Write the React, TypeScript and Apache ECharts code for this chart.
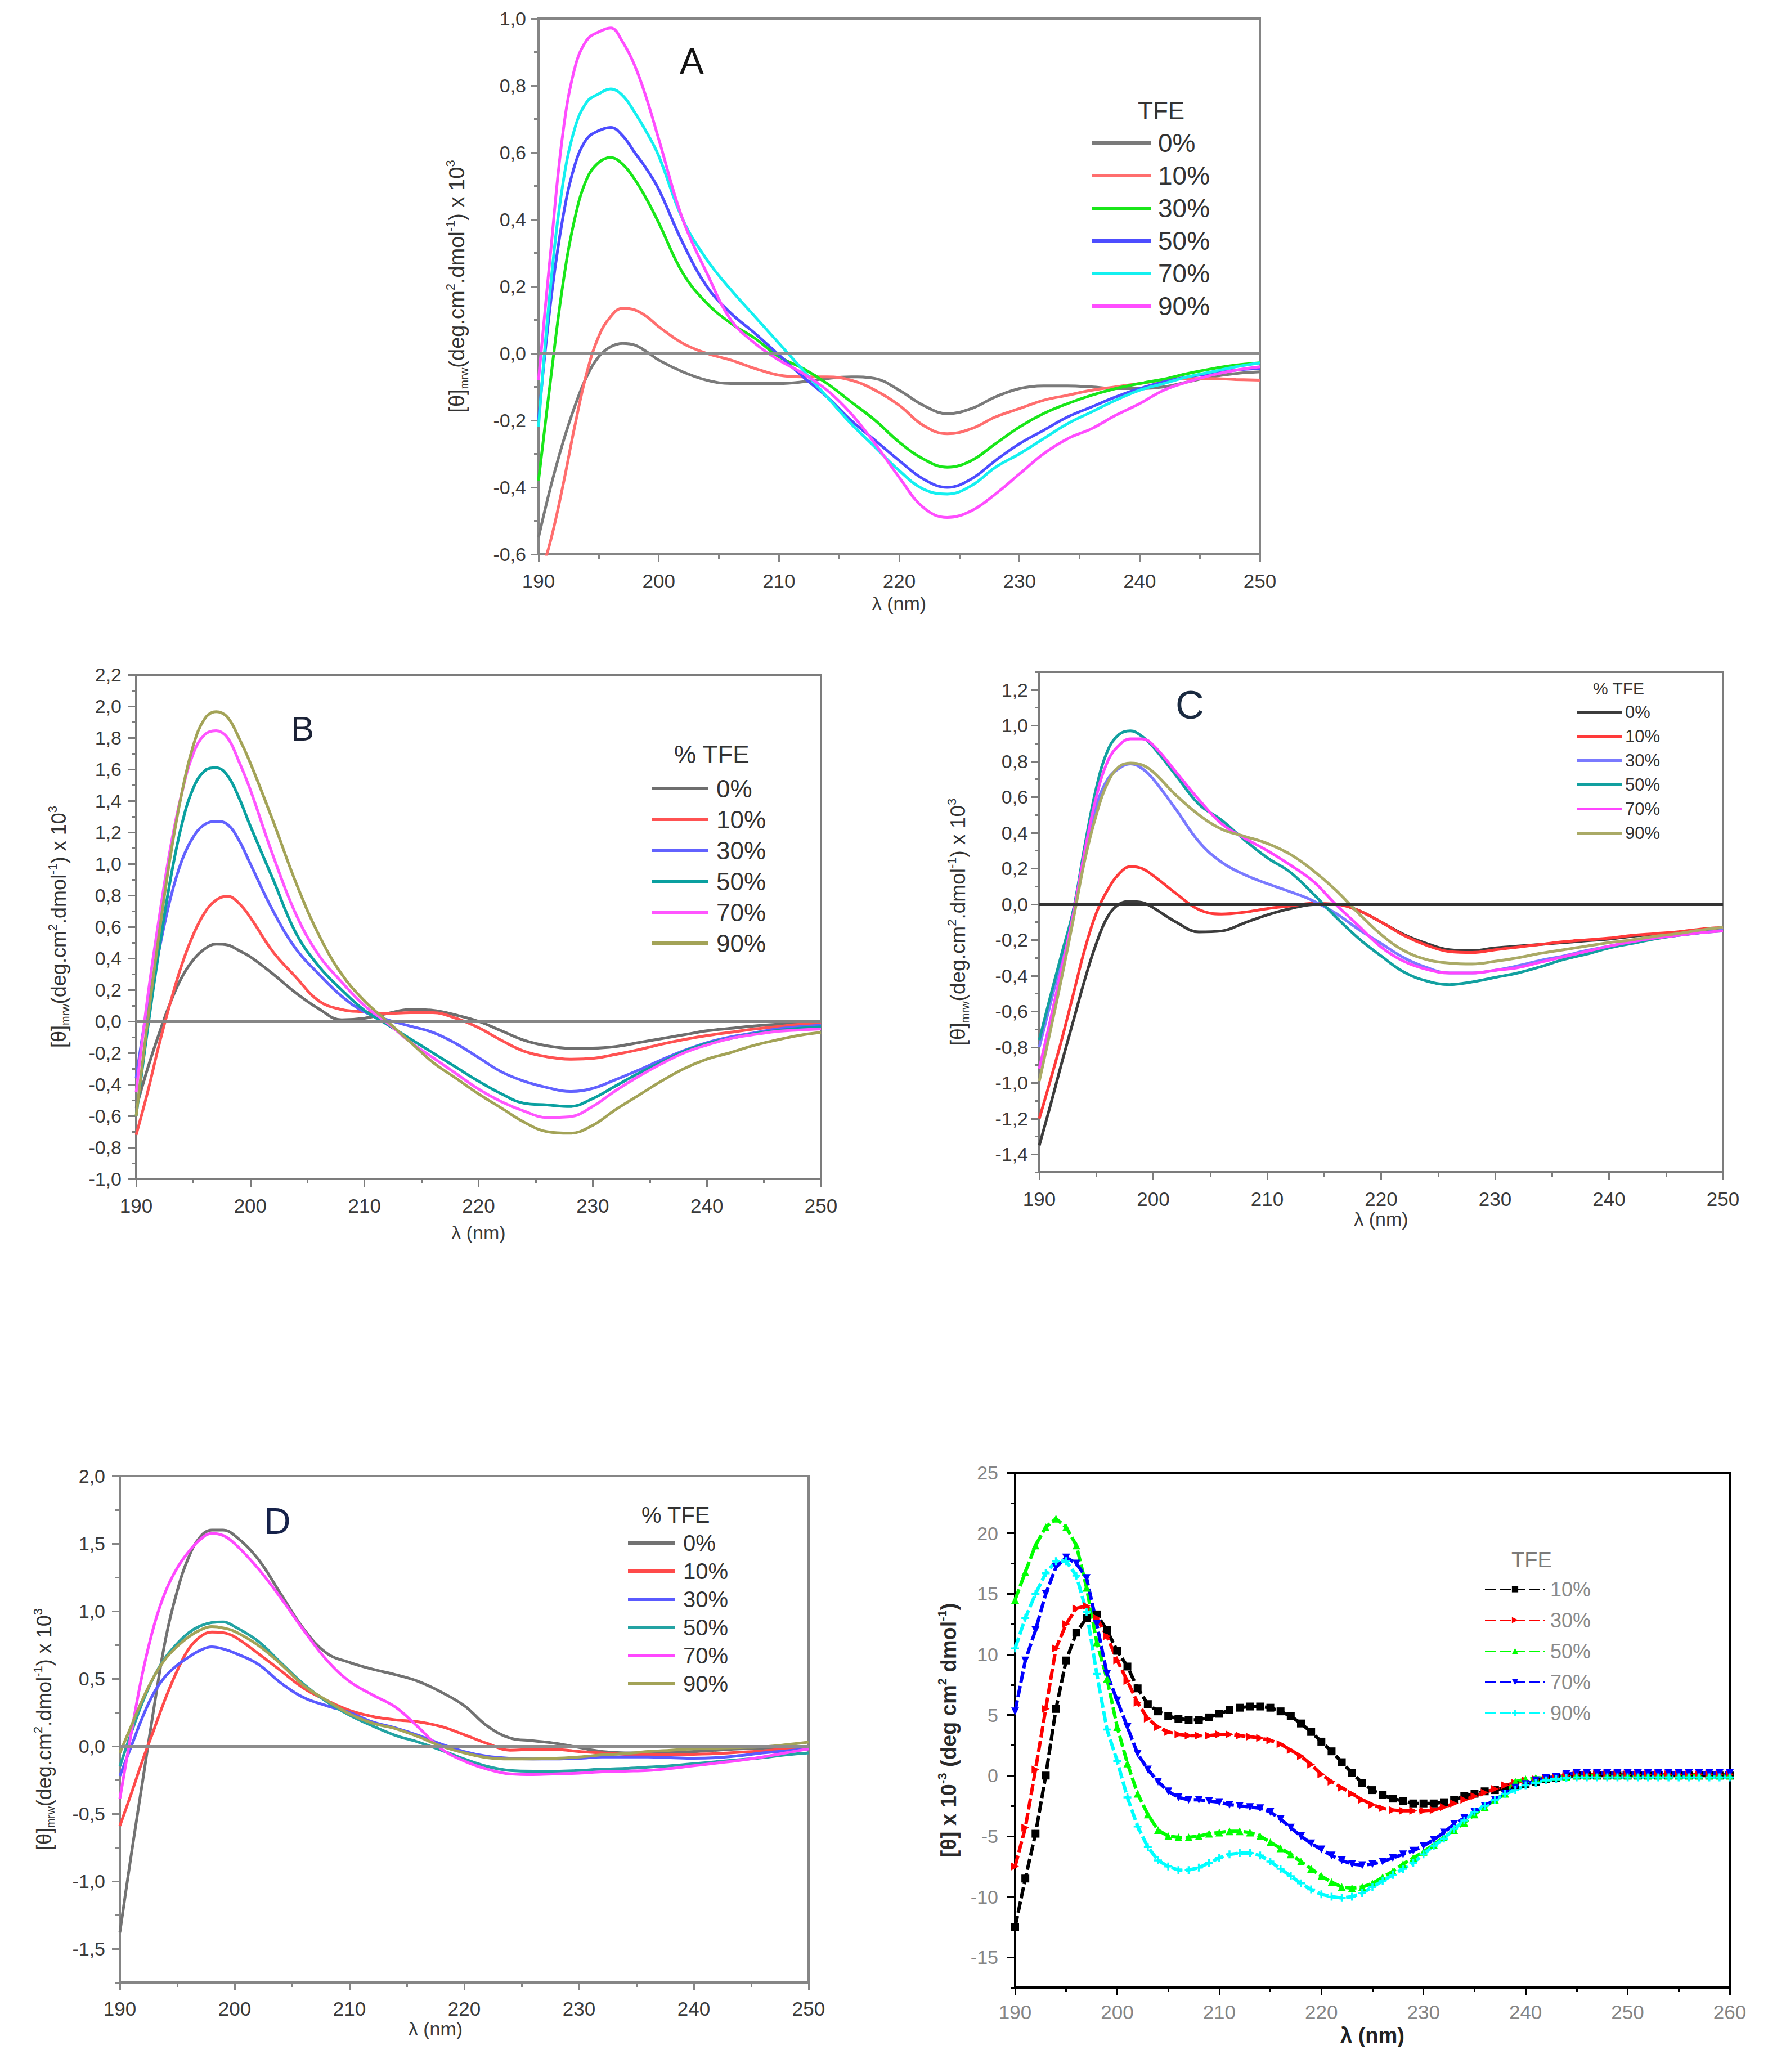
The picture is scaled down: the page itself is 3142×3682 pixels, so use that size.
import { useEffect, useRef } from 'react'
import * as echarts from 'echarts'

const FONT = "'Liberation Sans', Arial, Helvetica, sans-serif"

// wavelength grid (nm)
const X_AD = [190, 191, 192, 193, 194, 195, 196, 197, 198, 199, 200, 202, 204, 206, 208, 210, 212, 214, 216, 218, 220, 222, 224, 226, 228, 230, 232, 234, 236, 238, 240, 242, 244, 246, 248, 250]
const X_E = [190, 191, 192, 193, 194, 195, 196, 197, 198, 199, 200, 201, 202, 203, 204, 205, 206, 207, 208, 209, 210, 211, 212, 213, 214, 215, 216, 217, 218, 219, 220, 221, 222, 223, 224, 225, 226, 227, 228, 229, 230, 231, 232, 233, 234, 235, 236, 237, 238, 239, 240, 241, 242, 243, 244, 245, 246, 247, 248, 249, 250, 251, 252, 253, 254, 255, 256, 257, 258, 259, 260]

// tick labels
const Y_TICKS_A = [-0.6, -0.4, -0.2, 0, 0.2, 0.4, 0.6, 0.8, 1.0]
const Y_TICKS_B = [-1.0, -0.8, -0.6, -0.4, -0.2, 0, 0.2, 0.4, 0.6, 0.8, 1.0, 1.2, 1.4, 1.6, 1.8, 2.0, 2.2]
const Y_TICKS_C = [-1.4, -1.2, -1.0, -0.8, -0.6, -0.4, -0.2, 0, 0.2, 0.4, 0.6, 0.8, 1.0, 1.2]
const Y_TICKS_D = [-1.5, -1.0, -0.5, 0, 0.5, 1.0, 1.5, 2.0]
const Y_TICKS_E = [-15, -10, -5, 0, 5, 10, 15, 20, 25]

const TFE_AD = ['0%', '10%', '30%', '50%', '70%', '90%']
const TFE_E = ['10%', '30%', '50%', '70%', '90%']

// panel A
const A_0 = [-0.55, -0.40, -0.27, -0.16, -0.07, -0.01, 0.02, 0.03, 0.025, 0.005, -0.02, -0.055, -0.08, -0.09, -0.09, -0.09, -0.085, -0.075, -0.07, -0.075, -0.11, -0.155, -0.18, -0.165, -0.13, -0.105, -0.097, -0.097, -0.1, -0.105, -0.105, -0.1, -0.085, -0.07, -0.06, -0.055]
const A_10 = [-0.68, -0.56, -0.40, -0.22, -0.06, 0.05, 0.11, 0.135, 0.13, 0.11, 0.08, 0.03, 0.0, -0.02, -0.045, -0.065, -0.07, -0.07, -0.08, -0.11, -0.155, -0.215, -0.24, -0.225, -0.19, -0.165, -0.14, -0.125, -0.11, -0.1, -0.09, -0.08, -0.075, -0.075, -0.078, -0.08]
const A_30 = [-0.38, -0.08, 0.2, 0.4, 0.52, 0.57, 0.585, 0.565, 0.52, 0.46, 0.39, 0.24, 0.15, 0.09, 0.045, -0.01, -0.045, -0.09, -0.145, -0.2, -0.265, -0.315, -0.34, -0.32, -0.27, -0.22, -0.18, -0.15, -0.125, -0.105, -0.09, -0.077, -0.06, -0.046, -0.035, -0.028]
const A_50 = [-0.2, 0.15, 0.4, 0.56, 0.64, 0.665, 0.675, 0.65, 0.6, 0.55, 0.49, 0.33, 0.2, 0.12, 0.06, -0.005, -0.07, -0.13, -0.2, -0.26, -0.32, -0.375, -0.4, -0.375, -0.32, -0.27, -0.23, -0.19, -0.16, -0.13, -0.105, -0.085, -0.07, -0.06, -0.05, -0.045]
const A_70 = [-0.22, 0.2, 0.5, 0.67, 0.75, 0.775, 0.79, 0.77, 0.72, 0.66, 0.59, 0.4, 0.28, 0.19, 0.11, 0.03, -0.05, -0.13, -0.21, -0.28, -0.35, -0.405, -0.42, -0.395, -0.34, -0.3, -0.255, -0.21, -0.175, -0.14, -0.11, -0.09, -0.07, -0.055, -0.04, -0.028]
const A_90 = [-0.08, 0.3, 0.65, 0.85, 0.935, 0.96, 0.972, 0.93, 0.86, 0.76, 0.64, 0.4, 0.24, 0.1, 0.03, -0.02, -0.06, -0.11, -0.18, -0.27, -0.37, -0.46, -0.49, -0.47, -0.42, -0.36, -0.3, -0.255, -0.225, -0.185, -0.15, -0.11, -0.085, -0.065, -0.05, -0.04]

// panel B
const B_0 = [-0.55, -0.3, -0.08, 0.12, 0.28, 0.39, 0.46, 0.49, 0.485, 0.45, 0.41, 0.3, 0.18, 0.08, 0.01, 0.02, 0.05, 0.075, 0.07, 0.04, 0.0, -0.06, -0.12, -0.155, -0.17, -0.17, -0.16, -0.135, -0.11, -0.085, -0.06, -0.045, -0.03, -0.02, -0.015, -0.012]
const B_10 = [-0.72, -0.45, -0.15, 0.12, 0.36, 0.55, 0.69, 0.77, 0.795, 0.75, 0.66, 0.44, 0.28, 0.13, 0.075, 0.06, 0.05, 0.055, 0.055, 0.02, -0.04, -0.12, -0.19, -0.225, -0.24, -0.235, -0.21, -0.18, -0.145, -0.115, -0.09, -0.07, -0.05, -0.035, -0.02, -0.012]
const B_30 = [-0.36, 0.1, 0.45, 0.78, 1.02, 1.17, 1.25, 1.27, 1.25, 1.15, 1.0, 0.7, 0.46, 0.3, 0.16, 0.06, 0.01, -0.03, -0.07, -0.14, -0.23, -0.32, -0.38, -0.42, -0.445, -0.425, -0.37, -0.31, -0.245, -0.185, -0.135, -0.1, -0.075, -0.05, -0.035, -0.025]
const B_50 = [-0.6, -0.05, 0.45, 0.9, 1.25, 1.48, 1.59, 1.61, 1.56, 1.42, 1.24, 0.9, 0.56, 0.35, 0.2, 0.07, -0.02, -0.11, -0.2, -0.29, -0.38, -0.46, -0.52, -0.53, -0.54, -0.49, -0.41, -0.33, -0.26, -0.19, -0.14, -0.11, -0.08, -0.06, -0.045, -0.035]
const B_70 = [-0.45, 0.15, 0.65, 1.1, 1.45, 1.7, 1.82, 1.845, 1.8, 1.65, 1.47, 1.05, 0.68, 0.42, 0.25, 0.1, -0.01, -0.13, -0.23, -0.33, -0.43, -0.51, -0.57, -0.61, -0.605, -0.54, -0.44, -0.35, -0.27, -0.2, -0.15, -0.11, -0.085, -0.065, -0.055, -0.048]
const B_90 = [-0.6, 0.0, 0.55, 1.05, 1.45, 1.75, 1.92, 1.965, 1.93, 1.8, 1.64, 1.27, 0.88, 0.55, 0.3, 0.13, 0.0, -0.13, -0.26, -0.36, -0.46, -0.55, -0.64, -0.7, -0.71, -0.66, -0.56, -0.47, -0.38, -0.3, -0.24, -0.2, -0.155, -0.12, -0.09, -0.07]

// panel C
const C_0 = [-1.35, -1.12, -0.88, -0.65, -0.42, -0.22, -0.07, 0.0, 0.015, 0.01, -0.02, -0.1, -0.155, -0.15, -0.105, -0.06, -0.025, -0.002, 0.0, -0.035, -0.1, -0.17, -0.22, -0.255, -0.26, -0.245, -0.235, -0.225, -0.215, -0.205, -0.195, -0.18, -0.17, -0.16, -0.15, -0.143]
const C_10 = [-1.2, -0.98, -0.75, -0.5, -0.25, -0.05, 0.08, 0.17, 0.21, 0.2, 0.16, 0.06, -0.03, -0.055, -0.045, -0.025, -0.01, 0.005, 0.0, -0.035, -0.1, -0.175, -0.23, -0.265, -0.27, -0.255, -0.24, -0.225, -0.21, -0.2, -0.19, -0.175, -0.165, -0.155, -0.14, -0.13]
const C_30 = [-0.8, -0.55, -0.3, -0.03, 0.3, 0.55, 0.7, 0.76, 0.785, 0.76, 0.7, 0.53, 0.35, 0.235, 0.165, 0.115, 0.07, 0.02, -0.05, -0.14, -0.22, -0.3, -0.355, -0.385, -0.385, -0.37, -0.345, -0.315, -0.29, -0.26, -0.235, -0.21, -0.19, -0.175, -0.16, -0.145]
const C_50 = [-0.76, -0.51, -0.27, -0.03, 0.33, 0.65, 0.86, 0.95, 0.97, 0.94, 0.88, 0.72, 0.56, 0.47, 0.36, 0.26, 0.18, 0.06, -0.07, -0.19, -0.29, -0.38, -0.43, -0.45, -0.435, -0.41, -0.385, -0.35, -0.31, -0.28, -0.245, -0.22, -0.195, -0.175, -0.16, -0.15]
const C_70 = [-0.92, -0.64, -0.35, -0.05, 0.3, 0.6, 0.8, 0.89, 0.925, 0.925, 0.89, 0.74, 0.585, 0.45, 0.37, 0.3, 0.22, 0.13, 0.0, -0.12, -0.24, -0.32, -0.365, -0.385, -0.385, -0.37, -0.355, -0.325, -0.295, -0.265, -0.235, -0.21, -0.19, -0.175, -0.16, -0.15]
const C_90 = [-0.99, -0.7, -0.4, -0.08, 0.25, 0.5, 0.68, 0.77, 0.79, 0.78, 0.74, 0.61, 0.5, 0.42, 0.38, 0.34, 0.28, 0.19, 0.08, -0.05, -0.17, -0.26, -0.31, -0.33, -0.335, -0.32, -0.3, -0.275, -0.255, -0.235, -0.215, -0.2, -0.18, -0.165, -0.145, -0.13]

// panel D
const D_0 = [-1.38, -0.8, -0.25, 0.3, 0.8, 1.15, 1.4, 1.55, 1.6, 1.6, 1.56, 1.39, 1.13, 0.87, 0.69, 0.62, 0.57, 0.53, 0.48, 0.4, 0.3, 0.15, 0.06, 0.04, 0.02, -0.01, -0.04, -0.05, -0.05, -0.045, -0.04, -0.03, -0.02, -0.015, -0.01, -0.005]
const D_10 = [-0.59, -0.35, -0.1, 0.13, 0.36, 0.56, 0.72, 0.81, 0.845, 0.84, 0.81, 0.69, 0.56, 0.43, 0.34, 0.265, 0.22, 0.195, 0.18, 0.145, 0.085, 0.02, -0.03, -0.025, -0.025, -0.04, -0.05, -0.06, -0.065, -0.065, -0.06, -0.055, -0.045, -0.035, -0.02, -0.006]
const D_30 = [-0.22, 0.0, 0.22, 0.4, 0.52, 0.6, 0.66, 0.71, 0.735, 0.72, 0.69, 0.61, 0.47, 0.36, 0.3, 0.25, 0.18, 0.135, 0.08, 0.015, -0.04, -0.075, -0.09, -0.095, -0.095, -0.09, -0.08, -0.08, -0.08, -0.085, -0.09, -0.085, -0.07, -0.05, -0.035, -0.02]
const D_50 = [-0.15, 0.1, 0.33, 0.52, 0.66, 0.76, 0.84, 0.89, 0.915, 0.92, 0.885, 0.78, 0.62, 0.46, 0.33, 0.23, 0.15, 0.08, 0.03, -0.03, -0.095, -0.15, -0.18, -0.185, -0.185, -0.18, -0.17, -0.165, -0.155, -0.145, -0.13, -0.115, -0.1, -0.085, -0.065, -0.05]
const D_70 = [-0.39, 0.1, 0.55, 0.9, 1.15, 1.32, 1.44, 1.53, 1.575, 1.56, 1.5, 1.32, 1.1, 0.86, 0.64, 0.48, 0.38, 0.29, 0.14, -0.02, -0.11, -0.17, -0.205, -0.21, -0.205, -0.2, -0.19, -0.185, -0.18, -0.165, -0.145, -0.125, -0.105, -0.08, -0.05, -0.02]
const D_90 = [-0.05, 0.15, 0.35, 0.52, 0.65, 0.74, 0.81, 0.86, 0.885, 0.875, 0.85, 0.75, 0.61, 0.45, 0.34, 0.24, 0.17, 0.13, 0.07, 0.0, -0.05, -0.085, -0.095, -0.095, -0.09, -0.08, -0.065, -0.055, -0.04, -0.03, -0.02, -0.015, -0.01, -0.005, 0.01, 0.03]

// panel E (x 10^-3)
const E_10 = [-12.5, -8.5, -4.8, 0.0, 5.5, 9.5, 11.8, 13.0, 13.3, 12.0, 10.3, 9.0, 7.2, 5.9, 5.3, 4.9, 4.7, 4.6, 4.6, 4.8, 5.1, 5.4, 5.6, 5.7, 5.7, 5.6, 5.3, 4.9, 4.3, 3.6, 2.8, 2.0, 1.1, 0.2, -0.6, -1.2, -1.6, -1.9, -2.1, -2.3, -2.3, -2.3, -2.2, -2.0, -1.7, -1.5, -1.3, -1.2, -1.0, -0.8, -0.7, -0.5, -0.3, -0.2, -0.1, 0, 0, 0, 0, 0, 0, 0, 0, 0, 0, 0, 0, 0, 0, 0, 0]
const E_30 = [-7.5, -4.3, 0.5, 5.5, 10.5, 12.5, 13.8, 14.0, 13.0, 11.5, 9.5, 7.8, 6.0, 4.7, 4.0, 3.6, 3.4, 3.3, 3.3, 3.3, 3.4, 3.4, 3.3, 3.2, 3.1, 2.9, 2.6, 2.1, 1.6, 0.9, 0.1, -0.5, -1.0, -1.5, -2.0, -2.4, -2.7, -2.85, -2.9, -2.9, -2.9, -2.85, -2.6, -2.3, -2.0, -1.7, -1.4, -1.1, -0.8, -0.6, -0.4, -0.3, -0.2, -0.1, 0, 0.1, 0.1, 0.1, 0.1, 0.1, 0.1, 0.1, 0.1, 0.1, 0.1, 0.1, 0.1, 0.1, 0.1, 0.1, 0.1]
const E_50 = [14.5, 16.8, 19.0, 20.5, 21.2, 20.5, 19.0, 15.5, 11.0, 8.0, 4.0, 1.0, -1.5, -3.2, -4.5, -5.0, -5.1, -5.1, -5.0, -4.8, -4.7, -4.6, -4.6, -4.7, -5.0, -5.5, -6.0, -6.5, -7.1, -7.7, -8.3, -8.8, -9.2, -9.3, -9.2, -8.9, -8.4, -7.9, -7.3, -6.8, -6.3, -5.7, -5.1, -4.5, -3.9, -3.2, -2.6, -2.0, -1.5, -0.5, -0.3, -0.2, -0.2, -0.1, -0.1, 0, 0, 0, 0, 0, 0, 0, 0, 0, 0, 0, 0, 0, 0, 0, 0]
const E_70 = [5.3, 9.5, 12.0, 15.0, 17.2, 18.0, 17.5, 16.3, 12.5, 8.4, 6.2, 4.0, 1.8, 0.5, -0.5, -1.3, -1.8, -2.0, -2.0, -2.1, -2.2, -2.4, -2.5, -2.6, -2.7, -3.0, -3.6, -4.3, -5.0, -5.6, -6.1, -6.6, -7.0, -7.3, -7.4, -7.3, -7.1, -6.8, -6.5, -6.2, -5.8, -5.3, -4.7, -4.0, -3.5, -3.0, -2.5, -2.0, -1.5, -1.0, -0.7, -0.4, -0.2, -0.1, 0.1, 0.2, 0.2, 0.2, 0.2, 0.2, 0.2, 0.2, 0.2, 0.2, 0.2, 0.2, 0.2, 0.2, 0.2, 0.2, 0.2]
const E_90 = [10.5, 13.0, 15.0, 16.7, 17.7, 17.7, 16.5, 13.5, 8.4, 3.8, 1.2, -1.8, -4.2, -5.9, -7.0, -7.5, -7.8, -7.8, -7.6, -7.2, -6.8, -6.5, -6.4, -6.4, -6.6, -7.1, -7.7, -8.3, -8.9, -9.4, -9.8, -10.0, -10.1, -10.0, -9.7, -9.2, -8.7, -8.2, -7.7, -7.2, -6.5, -5.8, -5.2, -4.4, -3.7, -3.0, -2.5, -2.0, -1.5, -1.2, -0.8, -0.6, -0.4, -0.3, -0.2, -0.15, -0.15, -0.15, -0.15, -0.15, -0.15, -0.15, -0.15, -0.15, -0.15, -0.15, -0.15, -0.15, -0.15, -0.15, -0.15]

const PLUS = 'path://M3,0H5V3H8V5H5V8H3V5H0V3H3Z'

const commaFmt = (v: number) => v.toFixed(1).replace('.', ',')
const intFmt = (v: number) => String(v)
const pairs = (xs: number[], ys: number[]) => xs.map((x, i) => [x, ys[i]])

// 纵轴标题（富文本：上下标）
const THETA_AD = '{t|[θ]}{s|mrw}{t|(deg.cm}{p|2}{t|.dmol}{p|-1}{t|) x 10}{p|3}'
const THETA_E = '{t|[θ] x 10}{p|-3}{t| (deg cm}{p|2}{t| dmol}{p|-1}{t|)}'

const PANELS: any[] = [
  {
    key: 'A', box: [957, 33, 1282, 952], frame: '#858585', zero: '#8c8c8c', labelColor: '#3a3a3a',
    yMin: -0.6, yMax: 1.0, yStep: 0.1, yTicks: Y_TICKS_A, yFmt: commaFmt,
    yName: THETA_AD, yNameSize: 38, yNameGap: 122, yLabelMargin: 22,
    xMax: 250, xLabelMargin: 30, xNameGap: 70, xs: X_AD,
    names: TFE_AD, values: [A_0, A_10, A_30, A_50, A_70, A_90],
    colors: ['#7a7a7a', '#ff6e6e', '#19e619', '#4d4dff', '#14f0f0', '#ff4dff'],
    legend: { left: 1940, top: 231, w: 105, h: 6, gap: 12, size: 46, color: '#333', pad: 8 }
  },
  {
    key: 'B', box: [242, 1199, 1217, 896], frame: '#7c7c7c', zero: '#858585', labelColor: '#3a3a3a',
    yMin: -1.0, yMax: 2.2, yStep: 0.1, yTicks: Y_TICKS_B, yFmt: commaFmt,
    yName: THETA_AD, yNameSize: 36, yNameGap: 116, yLabelMargin: 26,
    xMax: 250, xLabelMargin: 30, xNameGap: 78, xs: X_AD,
    names: TFE_AD, values: [B_0, B_10, B_30, B_50, B_70, B_90],
    colors: ['#6e6e6e', '#ff5252', '#6262ff', '#0aa0a0', '#ff55ff', '#a3a357'],
    legend: { left: 1159, top: 1379, w: 100, h: 6, gap: 11, size: 44, color: '#333', pad: 9 }
  },
  {
    key: 'C', box: [1847, 1194, 1215, 889], frame: '#7c7c7c', zero: '#333333', labelColor: '#3a3a3a',
    yMin: -1.5, yMax: 1.3, yStep: 0.1, yTicks: Y_TICKS_C, yFmt: commaFmt,
    yName: THETA_AD, yNameSize: 37, yNameGap: 122, yLabelMargin: 20,
    xMax: 250, xLabelMargin: 30, xNameGap: 50, xs: X_AD,
    names: TFE_AD, values: [C_0, C_10, C_30, C_50, C_70, C_90],
    colors: ['#3c3c3c', '#ff3a3a', '#7a7aff', '#12a0a0', '#ff45ff', '#aaaa66'],
    legend: { left: 2803, top: 1250, w: 80, h: 5, gap: 12, size: 31, color: '#333', pad: 0 }
  },
  {
    key: 'D', box: [213, 2623, 1224, 900], frame: '#858585', zero: '#8c8c8c', labelColor: '#3a3a3a',
    yMin: -1.75, yMax: 2.0, yStep: 0.25, yTicks: Y_TICKS_D, yFmt: commaFmt,
    yName: THETA_AD, yNameSize: 36, yNameGap: 113, yLabelMargin: 26,
    xMax: 250, xLabelMargin: 29, xNameGap: 42, xNamePad: [0, 102, 0, 0], xs: X_AD,
    names: TFE_AD, values: [D_0, D_10, D_30, D_50, D_70, D_90],
    colors: ['#727272', '#ff4a4a', '#5a5aff', '#23a3a3', '#ff48ff', '#a3a357'],
    legend: { left: 1116, top: 2722, w: 84, h: 6, gap: 10, size: 40, color: '#333', pad: 9 }
  },
  {
    key: 'E', box: [1804, 2617, 1270, 915], frame: '#000000', labelColor: '#858585',
    yMin: -17.5, yMax: 25, yStep: 2.5, yTicks: Y_TICKS_E, yFmt: intFmt,
    yName: THETA_E, yNameSize: 38, yNameGap: 95, yNameBold: true, yLabelMargin: 30,
    xMax: 260, xLabelMargin: 26, xNameGap: 66, xNameBold: true, xs: X_E,
    names: TFE_E, values: [E_10, E_30, E_50, E_70, E_90],
    colors: ['#000000', '#ff0000', '#00ff00', '#0000ff', '#00ffff'],
    symbols: ['rect', 'triangle', 'triangle', 'triangle', PLUS],
    rotations: [0, -90, 0, 180, 0],
    legend: { left: 2638, top: 2806, w: 107, h: 14, gap: 19, size: 36, color: '#8a8a8a', pad: 4 }
  }
]

// 面板字母和图例标题
const TITLES = [
  { text: 'A', left: 1208, top: 77, size: 64, color: '#141414' },
  { text: 'TFE', left: 2022, top: 174, size: 44, color: '#333' },
  { text: 'B', left: 517, top: 1263, size: 62, color: '#1b2236' },
  { text: '% TFE', left: 1198, top: 1318, size: 44, color: '#333' },
  { text: 'C', left: 2089, top: 1218, size: 70, color: '#1a2a40' },
  { text: '% TFE', left: 2831, top: 1208, size: 30, color: '#333' },
  { text: 'D', left: 469, top: 2670, size: 66, color: '#16224a' },
  { text: '% TFE', left: 1140, top: 2672, size: 40, color: '#333' },
  { text: 'TFE', left: 2686, top: 2753, size: 38, color: '#7a7a7a' }
]

function buildOption() {
  const grid: any[] = []
  const xAxis: any[] = []
  const yAxis: any[] = []
  const series: any[] = []
  const legend: any[] = []

  PANELS.forEach((p, i) => {
    const tick = { color: p.frame, width: 3 }
    const isE = p.key === 'E'
    grid.push({
      left: p.box[0], top: p.box[1], width: p.box[2], height: p.box[3],
      show: true, borderColor: p.frame, borderWidth: 4, containLabel: false, outerBoundsMode: 'none'
    })
    xAxis.push({
      type: 'value', gridIndex: i, min: 190, max: p.xMax, interval: 10,
      axisLine: { show: true, onZero: false, lineStyle: { color: p.frame, width: 4 } },
      axisTick: { show: true, length: 14, lineStyle: tick },
      minorTick: { show: true, splitNumber: 2, length: 8, lineStyle: tick },
      axisLabel: { fontSize: 35, color: p.labelColor, margin: p.xLabelMargin, fontFamily: FONT },
      splitLine: { show: false },
      name: 'λ (nm)', nameLocation: 'middle', nameGap: p.xNameGap,
      nameTextStyle: {
        fontSize: isE ? 38 : 34, color: isE ? '#222' : '#3a3a3a', fontWeight: p.xNameBold ? 'bold' : 'normal',
        fontFamily: FONT, padding: p.xNamePad || 0
      }
    })
    const isMajor = (v: number) => p.yTicks.some((t: number) => Math.abs(t - v) < 1e-6)
    const nameColor = isE ? '#2a2a2a' : '#333'
    const weight = p.yNameBold ? 'bold' : 'normal'
    // main axis: labels + major ticks
    yAxis.push({
      type: 'value', gridIndex: i, position: 'left', min: p.yMin, max: p.yMax, interval: p.yStep,
      axisLine: { show: true, onZero: false, lineStyle: { color: p.frame, width: 4 } },
      axisTick: { show: true, length: 14, lineStyle: tick, customValues: p.yTicks },
      axisLabel: {
        customValues: p.yTicks, fontSize: 34, color: p.labelColor, margin: p.yLabelMargin, fontFamily: FONT,
        formatter: (v: number) => (isMajor(v) ? p.yFmt(v) : '')
      },
      splitLine: { show: false },
      name: p.yName, nameLocation: 'middle', nameRotate: 90, nameGap: p.yNameGap,
      nameTextStyle: {
        fontSize: p.yNameSize, color: nameColor, fontFamily: FONT,
        rich: {
          t: { fontSize: p.yNameSize, lineHeight: p.yNameSize + 8, color: nameColor, fontWeight: weight, fontFamily: FONT },
          s: { fontSize: 20, lineHeight: 22, verticalAlign: 'bottom', color: nameColor, fontFamily: FONT },
          p: { fontSize: 22, lineHeight: 22, verticalAlign: 'top', color: nameColor, fontWeight: weight, fontFamily: FONT }
        }
      }
    })
    // minor ticks only
    yAxis.push({
      type: 'value', gridIndex: i, position: 'left', min: p.yMin, max: p.yMax, interval: p.yStep,
      axisLine: { show: false },
      axisTick: { show: true, length: 8, lineStyle: tick },
      axisLabel: { show: false },
      splitLine: { show: false }
    })

    p.values.forEach((vals: number[], k: number) => {
      const s: any = {
        type: 'line', name: p.key + '|' + p.names[k], xAxisIndex: i, yAxisIndex: 2 * i,
        data: pairs(p.xs, vals), clip: true,
        itemStyle: { color: p.colors[k] }
      }
      if (isE) {
        s.symbol = p.symbols[k]
        s.symbolRotate = p.rotations[k]
        s.symbolSize = 14
        s.showSymbol = true
        s.lineStyle = { color: p.colors[k], width: 6, type: [20, 6] }
      } else {
        s.smooth = 0.4
        s.symbol = 'none'
        s.showSymbol = false
        s.lineStyle = { color: p.colors[k], width: 5 }
      }
      if (k === 0 && p.zero) {
        s.markLine = {
          silent: true, symbol: 'none', label: { show: false },
          lineStyle: { color: p.zero, width: 5, type: 'solid' },
          data: [{ yAxis: 0 }]
        }
      }
      series.push(s)
    })

    const lg = p.legend
    legend.push({
      orient: 'vertical', left: lg.left, top: lg.top, padding: 0,
      itemWidth: lg.w, itemHeight: lg.h, itemGap: lg.gap,
      icon: isE ? undefined : 'rect',
      selectedMode: false,
      data: p.names.map((n: string) => p.key + '|' + n),
      formatter: (name: string) => name.split('|')[1],
      textStyle: { fontSize: lg.size, color: lg.color, fontFamily: FONT, padding: [0, 0, 0, lg.pad] }
    })
  })

  return {
    animation: false,
    backgroundColor: '#ffffff',
    textStyle: { fontFamily: FONT },
    title: TITLES.map((t) => ({
      text: t.text, left: t.left, top: t.top, padding: 0,
      textStyle: { fontSize: t.size, color: t.color, fontWeight: 'normal', fontFamily: FONT }
    })),
    grid, xAxis, yAxis, series, legend
  }
}

export default function App() {
  const chartRef = useRef<HTMLDivElement>(null)

  useEffect(() => {
    if (!chartRef.current) return
    document.body.style.margin = '0'
    const chart = echarts.init(chartRef.current, null, { renderer: 'svg' })
    chart.setOption(buildOption() as any)
    return () => {
      chart.dispose()
    }
  }, [])

  return (
    <div
      ref={chartRef}
      style={{ position: 'absolute', left: 0, top: 0, width: '3142px', height: '3682px', background: '#fff' }}
    />
  )
}
